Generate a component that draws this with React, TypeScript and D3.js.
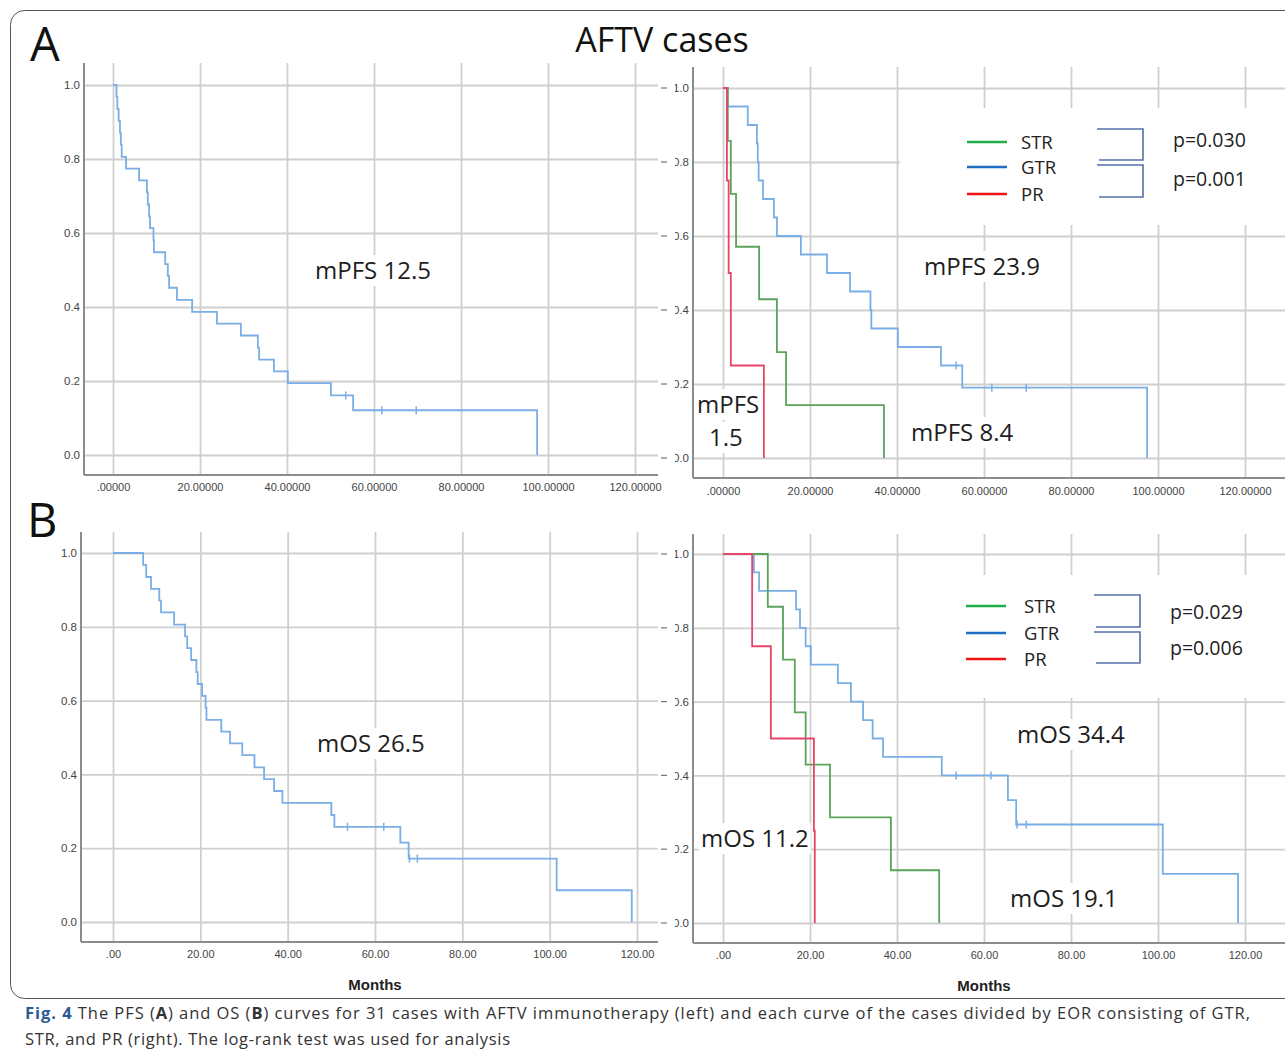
import { useEffect, useRef } from "react"
import * as d3 from "d3"

// axis ticks
const monthTicks = [0, 20, 40, 60, 80, 100, 120]
const pfsMonthLabels = [".00000", "20.00000", "40.00000", "60.00000", "80.00000", "100.00000", "120.00000"]
const osMonthLabels = [".00", "20.00", "40.00", "60.00", "80.00", "100.00", "120.00"]
const survTicks = [0, 0.2, 0.4, 0.6, 0.8, 1.0]
const survLabels = ["0.0", "0.2", "0.4", "0.6", "0.8", "1.0"]

// A left: PFS, all 31 cases
const pfsAllTimes = [0.8, 1.0, 1.3, 1.6, 1.8, 2.0, 3.0, 6.0, 7.8, 8.0, 8.3, 8.5, 9.3, 9.4, 12.0, 12.6, 12.9, 14.7, 18.2, 23.9, 29.4, 33.3, 33.6, 37.0, 40.2, 50.1, 55.2, 97.5]
const pfsAllSurv = [0.968, 0.935, 0.903, 0.871, 0.839, 0.806, 0.774, 0.742, 0.71, 0.677, 0.645, 0.613, 0.581, 0.548, 0.516, 0.484, 0.452, 0.419, 0.387, 0.355, 0.323, 0.29, 0.258, 0.226, 0.194, 0.161, 0.121, 0]
const pfsAllCensored = [53.5, 61.8, 69.7]

// A right: PFS by EOR
const pfsGtrTimes = [1.1, 5.7, 7.8, 8.0, 8.2, 9.2, 11.7, 12.4, 17.9, 23.9, 29.2, 33.9, 34.1, 40.2, 50.1, 55.0, 97.5]
const pfsGtrSurv = [0.95, 0.9, 0.85, 0.8, 0.75, 0.7, 0.65, 0.6, 0.55, 0.5, 0.45, 0.4, 0.35, 0.3, 0.25, 0.19, 0]
const pfsGtrCensored = [53.6, 61.8, 69.7]
const pfsStrTimes = [1.1, 1.8, 3.0, 8.3, 12.4, 14.5, 37.0]
const pfsStrSurv = [0.857, 0.714, 0.571, 0.429, 0.286, 0.143, 0]
const pfsPrTimes = [0.9, 1.3, 1.8, 9.4]
const pfsPrSurv = [0.75, 0.5, 0.25, 0]

// B left: OS, all 31 cases
const osAllTimes = [6.9, 7.6, 8.7, 10.6, 11.0, 14.0, 16.5, 17.0, 17.9, 19.1, 19.4, 20.4, 21.2, 21.4, 24.8, 26.8, 29.6, 32.4, 34.6, 36.9, 38.8, 50.0, 50.7, 65.8, 67.7, 101.6, 118.8]
const osAllSurv = [0.968, 0.935, 0.903, 0.871, 0.839, 0.806, 0.774, 0.742, 0.71, 0.677, 0.645, 0.613, 0.581, 0.548, 0.516, 0.484, 0.452, 0.419, 0.387, 0.355, 0.323, 0.29, 0.258, 0.215, 0.172, 0.086, 0]
const osAllCensored = [53.7, 62.0, 67.9, 69.7]

// B right: OS by EOR
const osGtrTimes = [7.1, 8.3, 16.8, 17.7, 19.0, 20.2, 26.4, 29.4, 32.2, 34.4, 36.8, 50.3, 65.5, 67.4, 101.1, 118.4]
const osGtrSurv = [0.95, 0.9, 0.85, 0.8, 0.75, 0.7, 0.65, 0.6, 0.55, 0.5, 0.45, 0.4, 0.333, 0.267, 0.133, 0]
const osGtrCensored = [53.6, 61.6, 67.6, 69.7]
const osStrTimes = [10.3, 13.8, 16.5, 19.0, 24.6, 38.6, 49.7]
const osStrSurv = [0.857, 0.714, 0.571, 0.429, 0.286, 0.143, 0]
const osPrTimes = [6.7, 11.0, 20.9, 21.1]
const osPrSurv = [0.75, 0.5, 0.25, 0]

const legendGroups = ["STR", "GTR", "PR"]
const pfsPValues = ["p=0.030", "p=0.001"]
const osPValues = ["p=0.029", "p=0.006"]

const BLUE = "#7aaee6"
const GREEN = "#5ba35b"
const RED = "#e64667"
const legendColors = ["#1fb04a", "#1f6ec4", "#f01414"]
const GRID = "#cfcfcf"
const AXIS = "#8c8c8c"
const SANS = "'Open Sans', 'Noto Sans', sans-serif"
const TICKFONT = "'Liberation Sans', Arial, sans-serif"

const panels = [
  {
    xRange: [113, 635], yRange: [455, 85], left: 84, top: 63, bottom: 475, right: 658, labelBase: 491,
    xLabels: pfsMonthLabels, cropped: false, monthsTitle: false,
    curves: [{ times: pfsAllTimes, surv: pfsAllSurv, censored: pfsAllCensored, color: BLUE }],
    notes: [{ text: "mPFS 12.5", x: 315, y: 279 }],
  },
  {
    xRange: [723, 1245], yRange: [458, 88], left: 693, top: 67, bottom: 478, right: 1285, labelBase: 495,
    xLabels: pfsMonthLabels, cropped: true, monthsTitle: false,
    legend: { box: [900, 108, 385, 117], lineX: [967, 1007], rows: [142, 167, 194], textX: 1021, pValues: pfsPValues, pX: 1173, pY: [147, 186], bracket: { x0: 1097, x1: 1143, ys: [[129, 160], [165, 197]] } },
    curves: [
      { times: pfsGtrTimes, surv: pfsGtrSurv, censored: pfsGtrCensored, color: BLUE },
      { times: pfsStrTimes, surv: pfsStrSurv, censored: [], color: GREEN },
      { times: pfsPrTimes, surv: pfsPrSurv, censored: [], color: RED },
    ],
    notes: [
      { text: "mPFS 23.9", x: 924, y: 275 },
      { text: "mPFS", x: 697, y: 413 },
      { text: "1.5", x: 709, y: 446 },
      { text: "mPFS 8.4", x: 911, y: 441 },
    ],
  },
  {
    xRange: [113, 637], yRange: [922, 553], left: 81, top: 532, bottom: 942, right: 658, labelBase: 958,
    xLabels: osMonthLabels, cropped: false, monthsTitle: true,
    curves: [{ times: osAllTimes, surv: osAllSurv, censored: osAllCensored, color: BLUE }],
    notes: [{ text: "mOS 26.5", x: 317, y: 752 }],
  },
  {
    xRange: [723, 1245], yRange: [923, 554], left: 693, top: 534, bottom: 943, right: 1285, labelBase: 959,
    xLabels: osMonthLabels, cropped: true, monthsTitle: true,
    legend: { box: [900, 575, 385, 123], lineX: [966, 1006], rows: [606, 633, 659], textX: 1024, pValues: osPValues, pX: 1170, pY: [619, 655], bracket: { x0: 1094, x1: 1140, ys: [[595, 627], [632, 663]] } },
    curves: [
      { times: osGtrTimes, surv: osGtrSurv, censored: osGtrCensored, color: BLUE },
      { times: osStrTimes, surv: osStrSurv, censored: [], color: GREEN },
      { times: osPrTimes, surv: osPrSurv, censored: [], color: RED },
    ],
    notes: [
      { text: "mOS 34.4", x: 1017, y: 743 },
      { text: "mOS 11.2", x: 701, y: 847 },
      { text: "mOS 19.1", x: 1010, y: 907 },
    ],
  },
]

const survivalAt = (times, surv, t) => {
  let s = 1
  times.forEach((tt, i) => {
    if (tt <= t) s = surv[i]
  })
  return s
}

const App = () => {
  const svgRef = useRef<SVGSVGElement>(null)

  useEffect(() => {
    const svg = d3.select(svgRef.current)
    svg.selectAll("*").remove()

    svg.append("rect").attr("width", 1285).attr("height", 1056).attr("fill", "#fff")

    // outer frame
    svg.append("rect")
      .attr("x", 10.5).attr("y", 10.5).attr("width", 1300).attr("height", 988).attr("rx", 14)
      .attr("fill", "none").attr("stroke", "#555").attr("stroke-width", 1)

    svg.append("defs").append("clipPath").attr("id", "cropLabels")
      .append("rect").attr("x", 675).attr("y", 0).attr("width", 700).attr("height", 1056)

    panels.forEach((p) => {
      const x = d3.scaleLinear().domain([0, 120]).range(p.xRange)
      const y = d3.scaleLinear().domain([0, 1]).range(p.yRange)

      // x axis: vertical gridlines + labels
      const gx = svg.append("g").attr("transform", `translate(0,${p.bottom})`)
        .call(d3.axisBottom(x).tickValues(monthTicks).tickFormat((d, i) => p.xLabels[i]).tickSize(-(p.bottom - p.top)))
      gx.select(".domain").remove()
      gx.selectAll(".tick line").attr("stroke", GRID).attr("stroke-width", 1.8)
      gx.selectAll(".tick text")
        .attr("y", p.labelBase - p.bottom).attr("dy", null)
        .attr("font-family", TICKFONT).attr("font-size", 11).attr("fill", "#444")

      // y axis: horizontal gridlines + labels (right panels are cropped on the left)
      const wrap = svg.append("g")
      if (p.cropped) wrap.attr("clip-path", "url(#cropLabels)")
      const gy = wrap.append("g").attr("transform", `translate(${p.left},0)`)
        .call(d3.axisLeft(y).tickValues(survTicks).tickFormat((d, i) => survLabels[i]).tickSize(-(p.right - p.left)).tickPadding(4))
      gy.select(".domain").remove()
      gy.selectAll(".tick line").attr("stroke", GRID).attr("stroke-width", 1.8)
      gy.selectAll(".tick text")
        .attr("font-family", TICKFONT).attr("font-size", 11.5).attr("fill", "#444")
      if (p.cropped) {
        svg.append("g").selectAll("line").data(survTicks).enter().append("line")
          .attr("x1", 661).attr("x2", 667).attr("y1", (d) => y(d)).attr("y2", (d) => y(d))
          .attr("stroke", "#777").attr("stroke-width", 1.2)
      }

      // axis lines
      svg.append("line").attr("x1", p.left).attr("x2", p.left).attr("y1", p.top).attr("y2", p.bottom)
        .attr("stroke", AXIS).attr("stroke-width", 2)
      svg.append("line").attr("x1", p.left).attr("x2", p.right).attr("y1", p.bottom).attr("y2", p.bottom)
        .attr("stroke", AXIS).attr("stroke-width", 2)

      if (p.monthsTitle) {
        svg.append("text").attr("x", x(60)).attr("y", p.bottom + 48).attr("text-anchor", "middle")
          .attr("font-family", TICKFONT).attr("font-weight", "bold").attr("font-size", 15).attr("fill", "#222")
          .text("Months")
      }

      // legend
      if (p.legend) {
        const L = p.legend
        svg.append("rect").attr("x", L.box[0]).attr("y", L.box[1]).attr("width", L.box[2]).attr("height", L.box[3]).attr("fill", "#fff")
        legendGroups.forEach((name, i) => {
          svg.append("line").attr("x1", L.lineX[0]).attr("x2", L.lineX[1]).attr("y1", L.rows[i]).attr("y2", L.rows[i])
            .attr("stroke", legendColors[i]).attr("stroke-width", 2.6)
          svg.append("text").attr("x", L.textX).attr("y", L.rows[i] + 6.5)
            .attr("font-family", SANS).attr("font-size", 18.5).attr("fill", "#222").text(name)
        })
        L.bracket.ys.forEach(([a, b]) => {
          svg.append("path")
            .attr("d", `M${L.bracket.x0},${a}H${L.bracket.x1}V${b}H${L.bracket.x0 + 2}`)
            .attr("fill", "none").attr("stroke", "#5470a8").attr("stroke-width", 1.6)
        })
        L.pValues.forEach((t, i) => {
          svg.append("text").attr("x", L.pX).attr("y", L.pY[i])
            .attr("font-family", SANS).attr("font-size", 19.5).attr("fill", "#222").text(t)
        })
      }

      // annotations with white backing
      p.notes.forEach((n) => {
        const g = svg.append("g")
        const bg = g.append("rect").attr("fill", "#fff")
        const t = g.append("text").attr("x", n.x).attr("y", n.y)
          .attr("font-family", SANS).attr("font-size", 24).attr("fill", "#1e1e1e").text(n.text)
        const bb = (t.node() as SVGTextElement).getBBox()
        bg.attr("x", bb.x - 2).attr("y", bb.y + 2).attr("width", bb.width + 4).attr("height", bb.height - 2)
      })

      // survival curves
      const line = d3.line().x((d) => x(d[0])).y((d) => y(d[1])).curve(d3.curveStepAfter)
      p.curves.forEach((c) => {
        const pts = [[0, 1], ...c.times.map((t, i) => [t, c.surv[i]])]
        svg.append("path").attr("d", line(pts)).attr("fill", "none")
          .attr("stroke", c.color).attr("stroke-width", 1.8)
        svg.append("g").selectAll("line").data(c.censored).enter().append("line")
          .attr("x1", (d) => x(d)).attr("x2", (d) => x(d))
          .attr("y1", (d) => y(survivalAt(c.times, c.surv, d)) - 4)
          .attr("y2", (d) => y(survivalAt(c.times, c.surv, d)) + 4)
          .attr("stroke", c.color).attr("stroke-width", 1.5)
      })
    })

    // panel titles
    svg.append("text").attr("x", 30).attr("y", 61).attr("font-family", SANS).attr("font-size", 47).attr("fill", "#111").text("A")
    svg.append("text").attr("x", 27).attr("y", 537).attr("font-family", SANS).attr("font-size", 47).attr("fill", "#111").text("B")
    svg.append("text").attr("x", 662).attr("y", 52).attr("text-anchor", "middle")
      .attr("font-family", SANS).attr("font-size", 34).attr("fill", "#111").text("AFTV cases")

    // caption
    const cap1 = svg.append("text").attr("x", 25).attr("y", 1019).attr("font-family", SANS).attr("font-size", 16.5).attr("fill", "#333")
      .attr("textLength", 1225).attr("lengthAdjust", "spacing")
    cap1.append("tspan").attr("font-weight", "bold").attr("fill", "#2a5a96").text("Fig. 4")
    cap1.append("tspan").text("  The PFS (")
    cap1.append("tspan").attr("font-weight", "bold").text("A")
    cap1.append("tspan").text(") and OS (")
    cap1.append("tspan").attr("font-weight", "bold").text("B")
    cap1.append("tspan").text(") curves for 31 cases with AFTV immunotherapy (left) and each curve of the cases divided by EOR consisting of GTR,")
    svg.append("text").attr("x", 25).attr("y", 1045).attr("font-family", SANS).attr("font-size", 16.5).attr("fill", "#333")
      .attr("textLength", 485).attr("lengthAdjust", "spacing")
      .text("STR, and PR (right). The log-rank test was used for analysis")
  }, [])

  return <svg ref={svgRef} width={1285} height={1056} style={{ position: "absolute", left: 0, top: 0 }} />
}

export default App
